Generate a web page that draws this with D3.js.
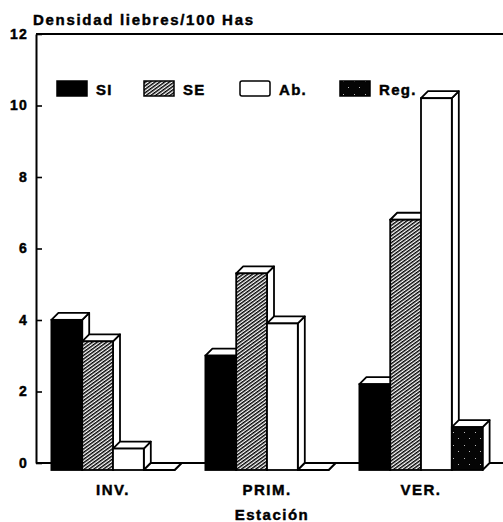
<!DOCTYPE html>
<html>
<head>
<meta charset="utf-8">
<script src="https://cdn.jsdelivr.net/npm/d3@7"></script>
<style>
  html, body { margin: 0; padding: 0; background: #fff; }
  svg { display: block; }
  text { font-family: "Liberation Sans", Arial, sans-serif; font-weight: bold; fill: #000; stroke: #000; stroke-width: 0.45px; }
</style>
</head>
<body>
<svg id="chart" width="503" height="522"></svg>
<script>
// ---- data ----
const categories = ["INV.", "PRIM.", "VER."];
const seriesNames = ["SI", "SE", "Ab.", "Reg."];
const valuesSI  = [4.2, 3.2, 2.4];
const valuesSE  = [3.6, 5.5, 7.0];
const valuesAb  = [0.6, 4.1, 10.4];
const valuesReg = [0.0, 0.0, 1.2];
const yTicks = [0, 2, 4, 6, 8, 10, 12];
const titleText = "Densidad liebres/100 Has";
const xTitle = "Estación";

const seriesValues = [valuesSI, valuesSE, valuesAb, valuesReg];

const svg = d3.select("#chart");
const defs = svg.append("defs");

// hatched pattern (SE)
const hatch = defs.append("pattern")
  .attr("id", "hatch").attr("patternUnits", "userSpaceOnUse")
  .attr("width", 2.8).attr("height", 2.8)
  .attr("patternTransform", "rotate(-36)");
hatch.append("rect").attr("width", 2.8).attr("height", 2.8).attr("fill", "#fff");
hatch.append("line").attr("x1", 0).attr("y1", 0.7).attr("x2", 2.8).attr("y2", 0.7)
  .attr("stroke", "#000").attr("stroke-width", 1.5);

// speckled dark pattern (Reg.)
const speck = defs.append("pattern")
  .attr("id", "speck").attr("patternUnits", "userSpaceOnUse")
  .attr("width", 11).attr("height", 13);
speck.append("rect").attr("width", 11).attr("height", 13).attr("fill", "#050505");
[[2,3],[7,9]].forEach(([cx, cy]) =>
  speck.append("rect").attr("x", cx).attr("y", cy).attr("width", 1).attr("height", 1).attr("fill", "#bbb"));

const fills = ["#000", "url(#hatch)", "#fff", "url(#speck)"];

// ---- scales ----
const y = d3.scaleLinear().domain([0, 12]).range([463, 34]);
const x = d3.scaleBand().domain(categories).range([36, 498])
  .paddingInner(0.2).paddingOuter(0.1);
const xs = d3.scaleBand().domain(seriesNames).range([0, x.bandwidth()]);

const DX = 7, DY = 7;
const SW = 1.8;

// ---- frame / axes ----
svg.append("line").attr("x1", 36).attr("x2", 503).attr("y1", y(12)).attr("y2", y(12))
  .attr("stroke", "#000").attr("stroke-width", 1.8);
svg.append("line").attr("x1", 36).attr("x2", 503).attr("y1", y(0)).attr("y2", y(0))
  .attr("stroke", "#000").attr("stroke-width", 2);

const yAxis = svg.append("g").attr("transform", "translate(36,0)")
  .call(d3.axisLeft(y).tickValues(yTicks).tickFormat(d3.format("d"))
    .tickSizeInner(-6).tickSizeOuter(0).tickPadding(8));
yAxis.select(".domain").attr("stroke", "#000").attr("stroke-width", 2);
yAxis.selectAll(".tick line").attr("stroke", "#000").attr("stroke-width", 1.6);
yAxis.selectAll(".tick text")
  .style("font-family", '"Liberation Sans", Arial, sans-serif')
  .style("font-weight", "bold").style("font-size", "14px")
  .style("letter-spacing", "1.2px").attr("fill", "#000")
  .attr("stroke", "#000").attr("stroke-width", 0.45);

// ---- bars ----
const bars = svg.append("g");
categories.forEach((cat, ci) => {
  seriesNames.forEach((s, si) => {
    const v = seriesValues[si][ci];
    const x0 = x(cat) + xs(s), w = xs.bandwidth();
    const yb = y(v), y0 = y(0);
    const g = bars.append("g");
    // side face
    g.append("path")
      .attr("d", `M${x0 + w},${yb + DY}L${x0 + w + DX},${yb}L${x0 + w + DX},${y0}L${x0 + w},${y0 + DY}Z`)
      .attr("fill", "#fff").attr("stroke", "#000").attr("stroke-width", SW).attr("stroke-linejoin", "round");
    // top face
    g.append("path")
      .attr("d", `M${x0},${yb + DY}L${x0 + DX},${yb}L${x0 + w + DX},${yb}L${x0 + w},${yb + DY}Z`)
      .attr("fill", "#fff").attr("stroke", "#000").attr("stroke-width", SW).attr("stroke-linejoin", "round");
    // front face
    if (v > 0) {
      g.append("rect")
        .attr("x", x0).attr("y", yb + DY).attr("width", w).attr("height", y0 - yb)
        .attr("fill", fills[si]).attr("stroke", "#000").attr("stroke-width", SW);
    }
  });
});

// ---- legend ----
const legendX = [57, 144, 240, 340];
const legend = svg.append("g");
seriesNames.forEach((s, i) => {
  legend.append("rect").attr("x", legendX[i]).attr("y", 81)
    .attr("width", 30).attr("height", 15)
    .attr("rx", i === 2 ? 2 : 0)
    .attr("fill", fills[i]).attr("stroke", "#000").attr("stroke-width", 1.5);
  legend.append("text").attr("x", legendX[i] + 39).attr("y", 95)
    .style("font-size", "15px").style("letter-spacing", "1.3px").text(s);
});

// ---- category labels ----
svg.append("g").selectAll("text").data(categories).join("text")
  .attr("x", d => x(d) + x.bandwidth() / 2).attr("y", 495)
  .attr("text-anchor", "middle")
  .style("font-size", "15px").style("letter-spacing", "1.5px")
  .text(d => d);

// ---- titles ----
svg.append("text").attr("x", 272).attr("y", 520).attr("text-anchor", "middle")
  .style("font-size", "15px").style("letter-spacing", "1.5px").text(xTitle);
svg.append("text").attr("x", 33).attr("y", 25)
  .style("font-size", "15px").style("letter-spacing", "1.7px").text(titleText);
</script>
</body>
</html>
